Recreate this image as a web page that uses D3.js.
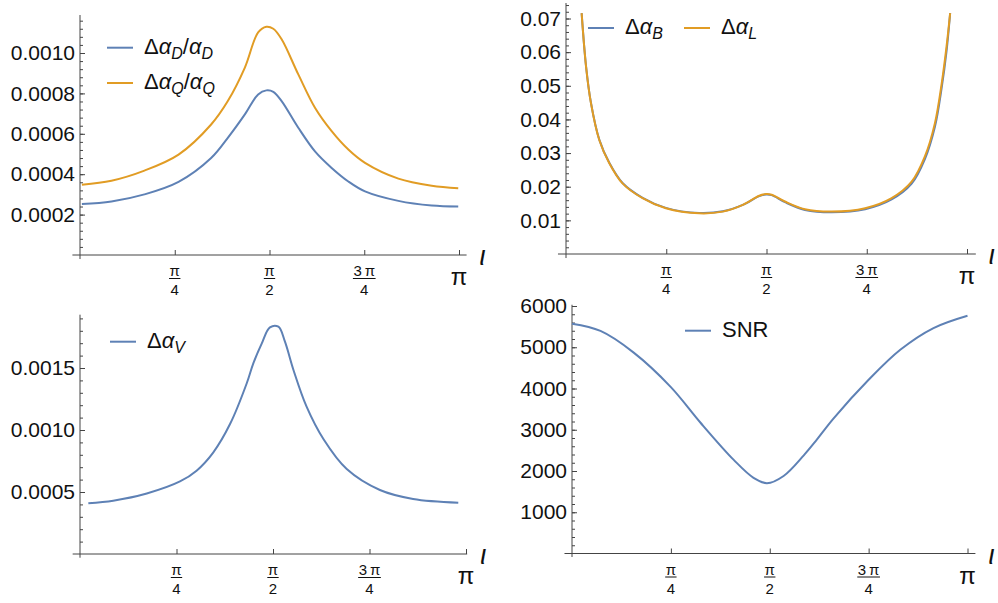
<!DOCTYPE html>
<html>
<head>
<meta charset="utf-8">
<script src="https://cdn.jsdelivr.net/npm/d3@7"></script>
<style>
  body { margin: 0; background: #fff; }
  svg text { font-family: "Liberation Sans", Arial, sans-serif; fill: #111; }
</style>
</head>
<body>
<div id="chart"></div>
<script>
// iota in units of pi

// top left: relative errors of alpha_D and alpha_Q
var tlIota = [0.005, 0.083, 0.17, 0.26, 0.346, 0.39, 0.435, 0.47, 0.4917, 0.51, 0.532, 0.576, 0.62, 0.664, 0.708, 0.752, 0.84, 0.928, 0.998]
var dAlphaQ = [0.000348, 0.000368, 0.000418, 0.000497, 0.000646, 0.000762, 0.000928, 0.001102, 0.00113, 0.00112, 0.001068, 0.000894, 0.000729, 0.000613, 0.000522, 0.000456, 0.000378, 0.000343, 0.000331]
var dAlphaD = [0.000252, 0.000265, 0.0003, 0.000362, 0.00048, 0.00058, 0.000696, 0.000795, 0.000815, 0.000808, 0.000762, 0.00063, 0.000513, 0.000431, 0.000364, 0.000315, 0.000268, 0.000245, 0.00024]

// top right: alpha_B and alpha_L
var trIota = [0.039, 0.05, 0.0623, 0.083, 0.108, 0.141, 0.191, 0.249, 0.332, 0.391, 0.441, 0.482, 0.499, 0.513, 0.546, 0.596, 0.663, 0.746, 0.812, 0.862, 0.895, 0.92, 0.937, 0.949, 0.958]
var dAlphaL = [0.0716, 0.0557, 0.0448, 0.0339, 0.027, 0.021, 0.0166, 0.0136, 0.0121, 0.0126, 0.0146, 0.0173, 0.0178, 0.0176, 0.0156, 0.0133, 0.0126, 0.0136, 0.0166, 0.0215, 0.029, 0.0389, 0.0508, 0.0617, 0.0716]
var dAlphaB = [0.0716, 0.0558, 0.0449, 0.034, 0.0271, 0.0211, 0.0167, 0.0137, 0.0122, 0.0127, 0.0146, 0.0172, 0.0177, 0.0175, 0.0154, 0.0131, 0.0124, 0.0133, 0.0162, 0.0209, 0.0282, 0.0378, 0.0495, 0.0603, 0.0716]

// bottom left: alpha_V
var blIota = [0.0216, 0.086, 0.173, 0.259, 0.302, 0.345, 0.389, 0.432, 0.449, 0.471, 0.492, 0.514, 0.531, 0.553, 0.587, 0.631, 0.691, 0.777, 0.863, 0.98]
var dAlphaV = [0.000409, 0.00043, 0.000488, 0.000585, 0.000672, 0.000818, 0.00105, 0.001377, 0.001538, 0.001699, 0.001828, 0.001833, 0.001712, 0.001484, 0.001188, 0.000925, 0.000685, 0.000516, 0.000444, 0.000414]

// bottom right: SNR
var brIota = [0, 0.072, 0.156, 0.25, 0.325, 0.409, 0.459, 0.493, 0.535, 0.586, 0.619, 0.661, 0.75, 0.83, 0.914, 1.0]
var snr = [5570, 5395, 4870, 4034, 3170, 2269, 1835, 1704, 1880, 2380, 2760, 3270, 4211, 4939, 5466, 5765]

// ticks
var xTicks = [0.25, 0.5, 0.75, 1]
var xNum = ["\u03c0", "\u03c0", "3\u2009\u03c0"]
var xDen = ["4", "2", "4"]
var tlYTicks = [0.0002, 0.0004, 0.0006, 0.0008, 0.0010]
var trYTicks = [0.01, 0.02, 0.03, 0.04, 0.05, 0.06, 0.07]
var blYTicks = [0.0005, 0.0010, 0.0015]
var brYTicks = [1000, 2000, 3000, 4000, 5000, 6000]

var blue = "#5E81B5", orange = "#E19C24", axisColor = "#444"

var svg = d3.select("#chart").append("svg")
    .attr("width", 998)
    .attr("height", 603)

var panels = [
  { xr: [80, 459], yd: [0, 0.001], yr: [255, 53], xExt: [-0.02, 1.02], yExt: [-0.00002, 0.001188],
    yTicks: tlYTicks, minor: 0.00004, fmt: d3.format(".4f"),
    series: [{ x: tlIota, y: dAlphaD, color: blue }, { x: tlIota, y: dAlphaQ, color: orange }],
    legend: [{ parts: [["\u0394"], ["\u03b1", "i"], ["D", "sub"], ["/"], ["\u03b1", "i"], ["D", "sub"]], color: blue, x: 107, y: 47.7 },
             { parts: [["\u0394"], ["\u03b1", "i"], ["Q", "sub"], ["/"], ["\u03b1", "i"], ["Q", "sub"]], color: orange, x: 107, y: 83 }] },
  { xr: [566, 967], yd: [0, 0.07], yr: [254, 18.5], xExt: [-0.02, 1.022], yExt: [-0.0012, 0.0746],
    yTicks: trYTicks, minor: 0.002, fmt: d3.format(".2f"),
    series: [{ x: trIota, y: dAlphaB, color: blue }, { x: trIota, y: dAlphaL, color: orange }],
    legend: [{ parts: [["\u0394"], ["\u03b1", "i"], ["B", "sub"]], color: blue, x: 588, y: 28 },
             { parts: [["\u0394"], ["\u03b1", "i"], ["L", "sub"]], color: orange, x: 684, y: 28 }] },
  { xr: [80, 466], yd: [0, 0.0015], yr: [554, 368], xExt: [-0.019, 1.003], yExt: [-0.00003, 0.00193],
    yTicks: blYTicks, minor: 0.0001, fmt: d3.format(".4f"),
    series: [{ x: blIota, y: dAlphaV, color: blue }],
    legend: [{ parts: [["\u0394"], ["\u03b1", "i"], ["V", "sub"]], color: blue, x: 110, y: 341.7 }] },
  { xr: [572, 967.5], yd: [0, 6000], yr: [553.5, 306], xExt: [-0.019, 1.02], yExt: [-85, 6030],
    yTicks: brYTicks, minor: 200, fmt: d3.format("d"),
    series: [{ x: brIota, y: snr, color: blue }],
    legend: [{ parts: [["SNR"]], color: blue, x: 685, y: 330.7 }] }
]

panels.forEach(drawPanel)

function drawPanel(p){
  var x = d3.scaleLinear().domain([0, 1]).range(p.xr)
  var y = d3.scaleLinear().domain(p.yd).range(p.yr)
  var g = svg.append("g")

  // axis lines
  g.append("line")
    .attr("x1", x(p.xExt[0])).attr("x2", x(p.xExt[1]))
    .attr("y1", y(0)).attr("y2", y(0))
    .attr("stroke", axisColor)
  g.append("line")
    .attr("x1", x(0)).attr("x2", x(0))
    .attr("y1", y(p.yExt[0])).attr("y2", y(p.yExt[1]))
    .attr("stroke", axisColor)

  // y minor ticks
  var minorVals = d3.range(1, Math.floor(p.yExt[1] / p.minor + 1e-6) + 1).map(i => i * p.minor)
  g.append("g")
    .attr("transform", "translate(" + x(0) + ",0)")
    .call(d3.axisLeft(y).tickValues(minorVals).tickSize(-3).tickFormat(""))
    .call(a => a.select(".domain").remove())
    .selectAll("line").attr("stroke", axisColor)

  // y major ticks + labels
  g.append("g")
    .attr("transform", "translate(" + x(0) + ",0)")
    .call(d3.axisLeft(y).tickValues(p.yTicks).tickSize(-5).tickPadding(5).tickFormat(p.fmt))
    .call(a => a.select(".domain").remove())
    .call(a => a.selectAll("line").attr("stroke", axisColor))
    .selectAll("text")
      .attr("font-size", 21)
      .attr("font-family", "Liberation Sans, Arial, sans-serif")
      .attr("fill", "#111")

  // x ticks
  g.append("g")
    .attr("transform", "translate(0," + y(0) + ")")
    .call(d3.axisBottom(x).tickValues(xTicks).tickSize(-5).tickFormat(""))
    .call(a => a.select(".domain").remove())
    .selectAll("line").attr("stroke", axisColor)

  // fraction labels
  var y0 = y(0)
  xTicks.slice(0, 3).forEach(function(t, i){
    var num = g.append("text")
      .attr("x", x(t)).attr("y", y0 + 21)
      .attr("text-anchor", "middle")
      .attr("font-size", 15)
      .text(xNum[i])
    var w = num.node().getComputedTextLength() + 1
    g.append("line")
      .attr("x1", x(t) - w / 2).attr("x2", x(t) + w / 2)
      .attr("y1", y0 + 23.5).attr("y2", y0 + 23.5)
      .attr("stroke", "#111").attr("stroke-width", 1)
    g.append("text")
      .attr("x", x(t)).attr("y", y0 + 40)
      .attr("text-anchor", "middle")
      .attr("font-size", 15)
      .text(xDen[i])
  })
  g.append("text")
    .attr("x", x(1)).attr("y", y0 + 30)
    .attr("text-anchor", "middle")
    .attr("font-size", 24)
    .text("\u03c0")

  // iota axis label
  g.append("text")
    .attr("x", x(p.xExt[1]) + 13).attr("y", y0 + 10)
    .attr("font-size", 27)
    .attr("font-family", "Liberation Serif, serif")
    .attr("font-style", "italic")
    .text("\u03b9")

  // curves
  var line = d3.line()
    .curve(d3.curveCatmullRom.alpha(0.5))
    .x(d => x(d[0]))
    .y(d => y(d[1]))

  p.series.forEach(function(s){
    g.append("path")
      .attr("d", line(s.x.map((v, i) => [v, s.y[i]])))
      .attr("fill", "none")
      .attr("stroke", s.color)
      .attr("stroke-width", 2)
  })

  // legend
  p.legend.forEach(function(l){
    g.append("line")
      .attr("x1", l.x).attr("x2", l.x + 26)
      .attr("y1", l.y).attr("y2", l.y)
      .attr("stroke", l.color).attr("stroke-width", 2)
    var txt = g.append("text")
      .attr("x", l.x + 37).attr("y", l.y + 6)
      .attr("font-size", 22)
    var shifted = false
    l.parts.forEach(function(part){
      var ts = txt.append("tspan").text(part[0])
      if (part[1] == "sub") {
        ts.attr("font-size", 16).attr("font-style", "italic").attr("dy", 5)
        shifted = true
      } else {
        if (shifted) { ts.attr("dy", -5); shifted = false }
        if (part[1] == "i") ts.attr("font-style", "italic")
      }
    })
  })
}
</script>
</body>
</html>
